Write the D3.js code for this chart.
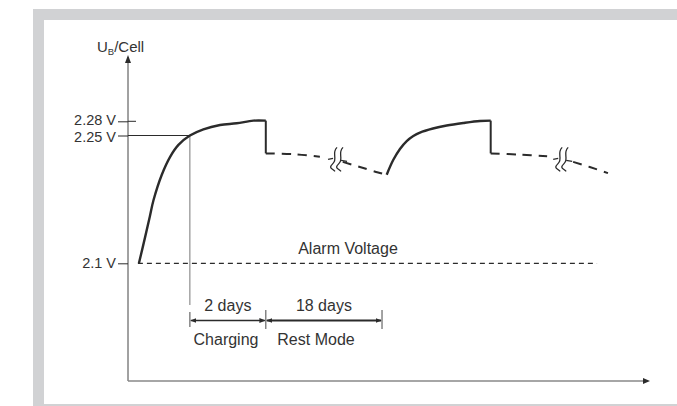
<!DOCTYPE html>
<html><head><meta charset="utf-8">
<script src="https://cdn.jsdelivr.net/npm/d3@7"></script>
<style>body{margin:0;background:#fff}svg{display:block;font-family:"Liberation Sans",Arial,sans-serif}</style>
</head><body><svg id="c" width="677" height="406"></svg>
<script>
// Schematic time axis (arbitrary units 0-100) and cell voltage (V)
const yTickValues = [2.1, 2.25, 2.28];
const yTickLabels = ["2.1 V", "2.25 V", "2.28 V"];
const alarmVoltage = 2.1;
const alarmLabel = "Alarm Voltage";
const alarmStartT = 1.9, alarmEndT = 90.2;

const charge1T = [2.1, 3.3, 4.2, 4.9, 6.5, 8.1, 9.7, 11.9, 14.5, 17.7, 20.9, 24.1, 26.5];
const charge1V = [2.100, 2.131, 2.155, 2.174, 2.204, 2.225, 2.239, 2.250, 2.2631, 2.2722, 2.2758, 2.2813, 2.2813];
const rest1aT = [26.5, 32.1, 36.9];
const rest1aV = [2.229, 2.228, 2.225];
const rest1bT = [41.3, 44.6, 48.1, 49.75];
const rest1bV = [2.219, 2.213, 2.2066, 2.204];
const charge2T = [49.75, 51.0, 52.3, 53.6, 54.87, 56.15, 58.65, 61.29, 64.48, 67.69, 69.75];
const charge2V = [2.204, 2.2212, 2.2342, 2.2435, 2.2494, 2.2563, 2.2648, 2.2711, 2.2764, 2.2806, 2.2813];
const rest2aT = [69.75, 75.4, 80.6];
const rest2aV = [2.229, 2.2275, 2.2256];
const rest2bT = [85.6, 88.8, 92.3];
const rest2bV = [2.219, 2.213, 2.2058];
const breakT = [40.2, 83.5];
const breakV = [2.222, 2.222];

const phaseT = [11.9, 26.5, 48.85];          // start of 2 days, end of charging, end of 18 days
const phaseLabels = ["2 days", "18 days"];
const modeLabels = ["Charging", "Rest Mode"];
const yAxisTitle = ["U", "B", "/Cell"];

const svg = d3.select("#c");
const ink = "#2b2b2b";
const txt = "#333";

// frame
svg.append("rect").attr("x",33).attr("y",9).attr("width",644).attr("height",397).attr("fill","#d1d2d4");
svg.append("rect").attr("x",44).attr("y",20).attr("width",633).attr("height",384).attr("fill","#fff");

const x = d3.scaleLinear().domain([0,100]).range([128,648]);
const y = d3.scaleLinear().domain([2.0, 2.1, 2.25, 2.28, 2.35]).range([381, 263.3, 135.5, 121.3, 85]);

const zip = (t,v)=>t.map((d,i)=>({t:d,v:v[i]}));
const line = d3.line().x(d=>x(d.t)).y(d=>y(d.v)).curve(d3.curveCatmullRom.alpha(0.5));
const straight = d3.line().x(d=>x(d.t)).y(d=>y(d.v));

const defs = svg.append("defs");
defs.append("marker").attr("id","ah").attr("viewBox","0 0 10 10").attr("refX",9).attr("refY",5)
  .attr("markerWidth",6).attr("markerHeight",6).attr("markerUnits","userSpaceOnUse").attr("orient","auto-start-reverse")
  .append("path").attr("d","M0,1L10,5L0,9Z").attr("fill",ink);

// axes lines
const x0 = x(0), yBase = y(2.0);
svg.append("line").attr("x1",x0).attr("y1",yBase).attr("x2",x0).attr("y2",57)
  .attr("stroke","#444").attr("stroke-width",1);
svg.append("path").attr("d",`M${x0-3},${63}L${x0},${55}L${x0+3},${63}Z`).attr("fill",ink);
svg.append("line").attr("x1",x0).attr("y1",yBase).attr("x2",645).attr("y2",yBase)
  .attr("stroke","#888").attr("stroke-width",1.6);
svg.append("path").attr("d",`M${643},${yBase-3}L${650},${yBase}L${643},${yBase+3}Z`).attr("fill",ink);

// y axis ticks via d3 axis
const yAxis = d3.axisLeft(y).tickValues(yTickValues).tickSizeInner(10).tickSizeOuter(0).tickPadding(2)
  .tickFormat((d,i)=>yTickLabels[i]);
const gy = svg.append("g").attr("transform",`translate(${x0},0)`).call(yAxis);
gy.select(".domain").remove();
gy.selectAll(".tick line").attr("stroke",ink).attr("stroke-width",1);
gy.selectAll(".tick text").attr("fill",txt).attr("font-size",14.5).attr("font-family","Liberation Sans, Arial, sans-serif")
  .attr("dy",(d)=> d===2.28 ? "0.22em" : d===2.25 ? "0.4em" : "0.32em");

// extension lines
svg.append("line").attr("x1",x0).attr("x2",x0+8).attr("y1",y(2.28)).attr("y2",y(2.28)).attr("stroke",ink);
svg.append("line").attr("x1",x0).attr("x2",x(phaseT[0])).attr("y1",y(2.25)).attr("y2",y(2.25)).attr("stroke",ink).attr("stroke-width",1.2);
svg.append("line").attr("x1",x(phaseT[0])).attr("x2",x(phaseT[0])).attr("y1",y(2.25)).attr("y2",305).attr("stroke","#777").attr("stroke-width",1);

// y title
const yt = svg.append("text").attr("x",97).attr("y",52).attr("fill",txt).attr("font-size",15);
yt.append("tspan").text(yAxisTitle[0]);
yt.append("tspan").attr("font-size",9.5).attr("dy",3).text(yAxisTitle[1]);
yt.append("tspan").attr("dy",-3).text(yAxisTitle[2]);

// alarm line
svg.append("line").attr("x1",x(alarmStartT)).attr("x2",x(alarmEndT)).attr("y1",y(alarmVoltage)).attr("y2",y(alarmVoltage))
  .attr("stroke",ink).attr("stroke-width",1.2).attr("stroke-dasharray","5,4");
svg.append("text").attr("x",348).attr("y",254).attr("text-anchor","middle").attr("fill",txt).attr("font-size",16).text(alarmLabel);

// curves
[zip(charge1T,charge1V), zip(charge2T,charge2V)].forEach(s=>{
  svg.append("path").attr("d",line(s)).attr("fill","none").attr("stroke",ink).attr("stroke-width",2.4).attr("stroke-linejoin","round");
});
// vertical drops
[[charge1T, charge1V, rest1aV],[charge2T, charge2V, rest2aV]].forEach(([t,v,r])=>{
  const tt = t[t.length-1];
  svg.append("path").attr("d",straight([{t:tt,v:v[v.length-1]},{t:tt,v:r[0]}]))
    .attr("fill","none").attr("stroke",ink).attr("stroke-width",2);
});
// dashed rests
[zip(rest1aT,rest1aV), zip(rest1bT,rest1bV), zip(rest2aT,rest2aV), zip(rest2bT,rest2bV)].forEach(s=>{
  svg.append("path").attr("d",line(s)).attr("fill","none").attr("stroke",ink).attr("stroke-width",2)
    .attr("stroke-dasharray","9,7");
});
// break symbols
breakT.forEach((t,i)=>{
  const cx = x(t), cy = y(breakV[i]);
  [-3,3].forEach(o=>{
    svg.append("path").attr("d",`M${cx+o+3},${cy-12} C${cx+o-3},${cy-6} ${cx+o+4},${cy-1} ${cx+o-1},${cy+4} S${cx+o-2},${cy+9} ${cx+o+1},${cy+12}`)
      .attr("fill","none").attr("stroke",ink).attr("stroke-width",1.3);
  });
  svg.append("line").attr("x1",cx-9).attr("x2",cx-4).attr("y1",cy).attr("y2",cy-1).attr("stroke",ink).attr("stroke-width",1.3);
  svg.append("line").attr("x1",cx+4).attr("x2",cx+10).attr("y1",cy+1).attr("y2",cy+2).attr("stroke",ink).attr("stroke-width",1.3);
});

// dimension annotations
const dimY = 320.5;
phaseT.forEach((t,i)=>{
  svg.append("line").attr("x1",x(t)).attr("x2",x(t)).attr("y1",i===0?312:310).attr("y2",i===0?327:329)
    .attr("stroke","#666").attr("stroke-width",1.2);
});
for(let i=0;i<2;i++){
  const a = x(phaseT[i]), b = x(phaseT[i+1]);
  svg.append("line").attr("x1",a+1).attr("x2",b-1).attr("y1",dimY).attr("y2",dimY)
    .attr("stroke",ink).attr("stroke-width",i===0?1.3:2)
    .attr("marker-start","url(#ah)").attr("marker-end","url(#ah)");
  svg.append("text").attr("x",(a+b)/2).attr("y",311).attr("text-anchor","middle").attr("fill",txt).attr("font-size",16).text(phaseLabels[i]);
}
svg.append("text").attr("x",226).attr("y",345).attr("text-anchor","middle").attr("fill",txt).attr("font-size",16).text(modeLabels[0]);
svg.append("text").attr("x",316).attr("y",345).attr("text-anchor","middle").attr("fill",txt).attr("font-size",16).text(modeLabels[1]);
</script></body></html>
